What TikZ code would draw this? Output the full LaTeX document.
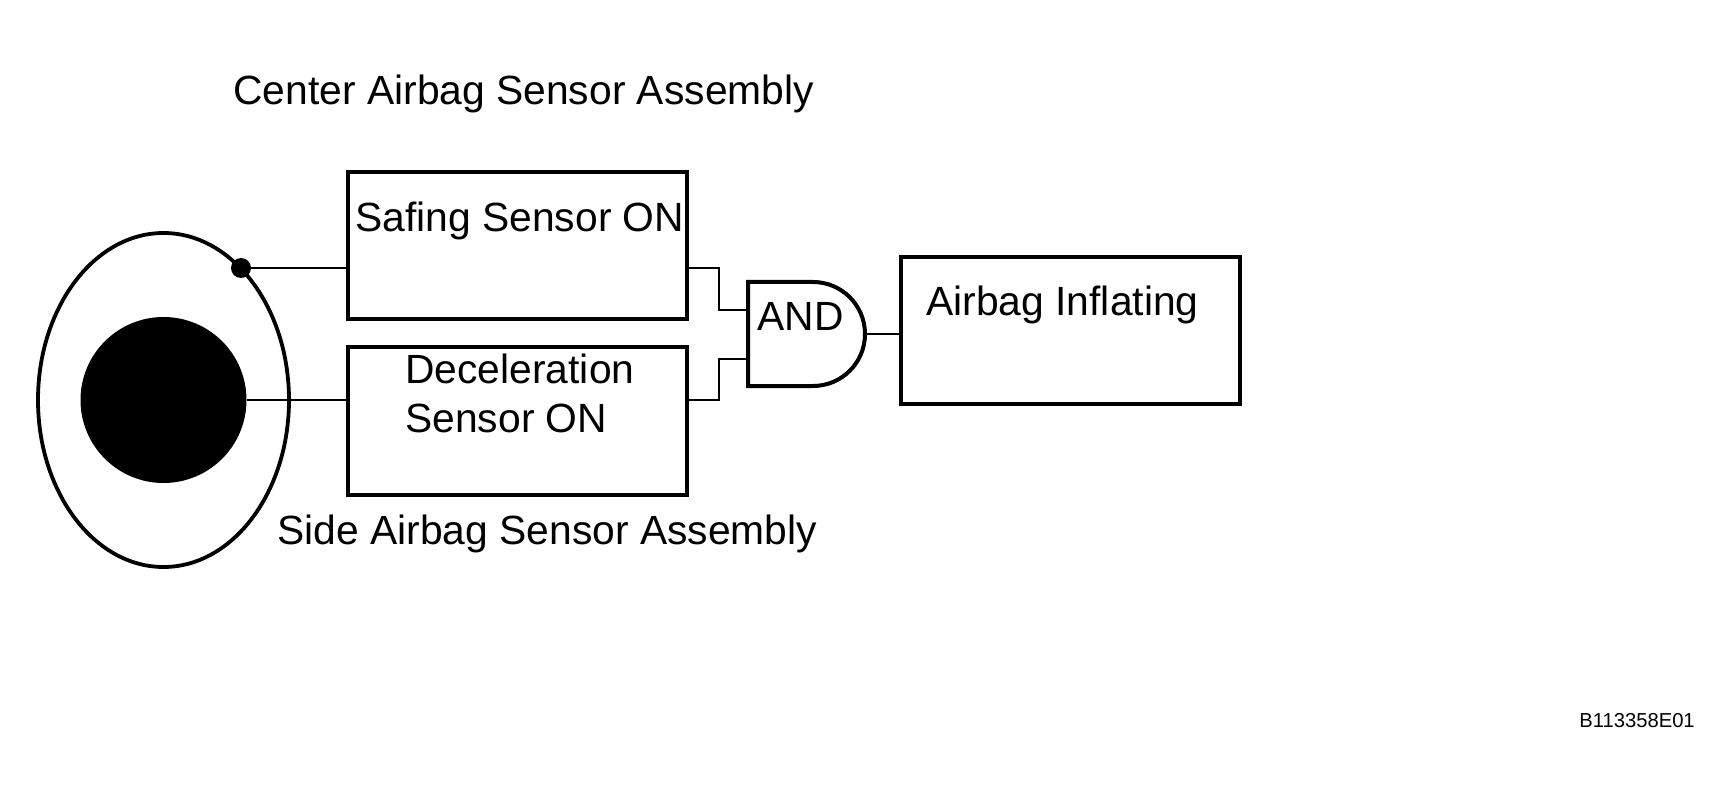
\documentclass[tikz,border=0pt]{standalone}
\usepackage{fontspec}
\setmainfont{Liberation Sans}
\usetikzlibrary{shapes.geometric,calc}
\begin{document}
\begin{tikzpicture}[x=0.5pt,y=-0.5pt,
  box/.style={draw,line width=2pt,rectangle,inner sep=0pt,minimum width=169.5pt},
  wire/.style={line width=1pt},
  lbl/.style={inner sep=0pt,anchor=base west,font=\fontsize{20.4}{24}\selectfont},
  small/.style={inner sep=0pt,anchor=base west,font=\fontsize{10.1}{12}\selectfont}]
\useasboundingbox (0,0) rectangle (1730,802);
\fill[white] (0,0) rectangle (1730,802);
% sensor assembly
\node[ellipse,draw,line width=1.9pt,inner sep=0pt,minimum width=125.5pt,minimum height=167pt] (shell) at (163.5,400) {};
\node[circle,fill=black,inner sep=0pt,minimum size=83pt] (core) at (163.5,400) {};
\node[circle,fill=black,inner sep=0pt,minimum size=10pt] (dot) at (241,268) {};
% boxes
\node[box,minimum height=73.5pt] (safe) at (517.5,245.5) {};
\node[box,minimum height=74pt] (decel) at (517.5,421) {};
\node[box,minimum height=73.5pt] (air) at (1070.5,330.5) {};
% AND gate
\coordinate (gin1) at (748,310);
\coordinate (gin2) at (748,359);
\coordinate (gout) at (865,334);
\draw[line width=2pt,line join=miter] (748,282) -- (813,282) arc[start angle=90,end angle=-90,radius=26pt] -- (748,386) -- cycle;
% wires
\draw[wire] (dot.center) -- (dot.center -| safe.west);
\draw[wire] (core.east) -- (core.east -| decel.west);
\draw[wire] (safe.east |- dot.center) -- ++(30,0) |- (gin1);
\draw[wire] (decel.east |- core.east) -- ++(30,0) |- (gin2);
\draw[wire] (gout) -- (gout -| air.west);
% texts
\node[lbl] (ctitle) at (233,105) {Center Airbag Sensor Assembly};
\node[lbl] (safetxt) at (355,232) {Safing Sensor ON};
\node[lbl] (dec1) at (405,383) {Deceleration};
\node[lbl] (dec2) at (405,432) {Sensor ON};
\node[lbl] (stitle) at (277,544) {Side Airbag Sensor Assembly};
\node[lbl] (andtxt) at (757,330) {AND};
\node[lbl] (airtxt) at (926,315) {Airbag Inflating};
\node[small] (code) at (1579,727) {B113358E01};
\end{tikzpicture}
\end{document}
